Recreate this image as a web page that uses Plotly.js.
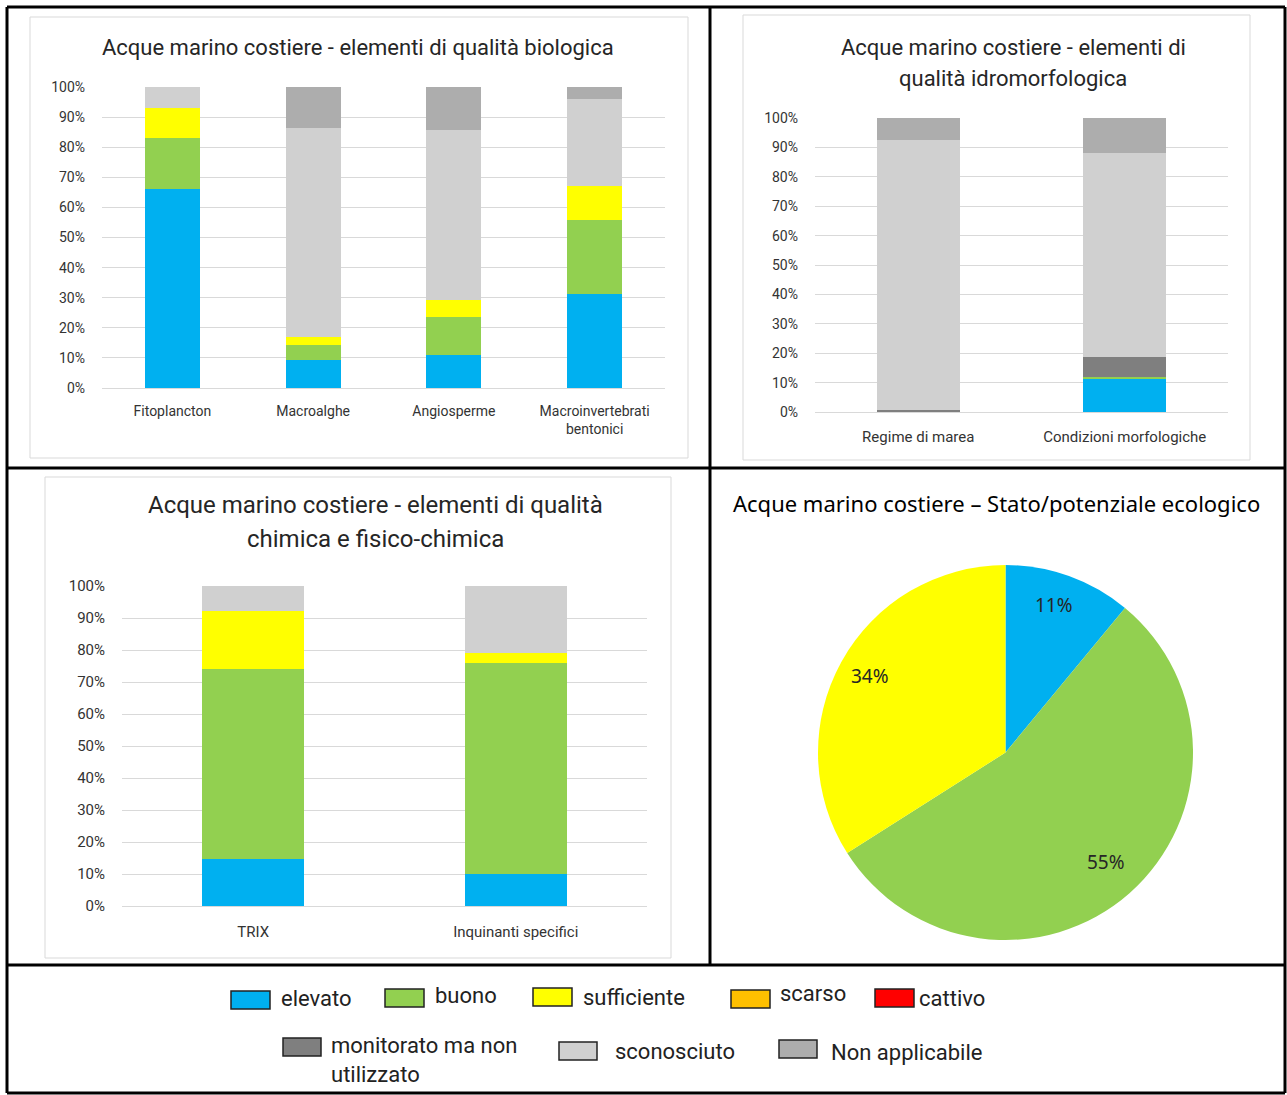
<!DOCTYPE html>
<html><head><meta charset="utf-8">
<script src="https://cdn.plot.ly/plotly-3.0.1.min.js"></script>
<style>html,body{margin:0;padding:0;background:#fff}#chart{width:1287px;height:1095px}</style>
</head><body><div id="chart"></div>
<script>
// ---- data ----
const catBio = ['Fitoplancton','Macroalghe','Angiosperme','Macroinvertebrati<br>bentonici'];
const bioElevato = [66, 9.3, 10.9, 31.2];
const bioBuono = [17, 5.1, 12.7, 24.6];
const bioSufficiente = [10, 2.5, 5.6, 11.2];
const bioSconosciuto = [7, 69.5, 56.6, 29.1];
const bioNonApplicabile = [0, 13.6, 14.2, 3.9];

const catIdro = ['Regime di marea','Condizioni morfologiche'];
const idroElevato = [0, 11.3];
const idroBuono = [0, 0.6];
const idroMonitorato = [0.8, 6.7];
const idroSconosciuto = [91.6, 69.6];
const idroNonApplicabile = [7.6, 11.8];

const catChim = ['TRIX','Inquinanti specifici'];
const chimElevato = [14.7, 10.0];
const chimBuono = [59.3, 66.0];
const chimSufficiente = [18.3, 3.2];
const chimSconosciuto = [7.7, 20.8];

const pieLabels = ['elevato','buono','sufficiente'];
const pieValues = [11, 55, 34];

const legendRow1 = ['elevato','buono','sufficiente','scarso','cattivo'];
const legendRow2 = ['monitorato ma non<br>utilizzato','sconosciuto','Non applicabile'];

const titleBio = ['Acque marino costiere - elementi di qualità biologica'];
const titleIdro = ['Acque marino costiere - elementi di', 'qualità idromorfologica'];
const titleChim = ['Acque marino costiere - elementi di qualità', 'chimica e fisico-chimica'];
const titlePie = 'Acque marino costiere – Stato/potenziale ecologico';

// ---- styles ----
const C = {elevato:'#00B0F0', buono:'#92D050', sufficiente:'#FFFF00', scarso:'#FFC000', cattivo:'#FF0000',
  monitorato:'#7F7F7F', sconosciuto:'#D0D0D0', na:'#ADADAD'};
const W = 1287, H = 1095;
const px = x => x / W, py = y => 1 - y / H;
const NARROW = '"Liberation Sans Narrow", "Arial Narrow", Roboto, sans-serif';

const traces = [];
function bar(x, y, color, xa, ya, w) {
  traces.push({type:'bar', x, y, marker:{color, line:{width:0}}, xaxis:xa, yaxis:ya, width:w,
    showlegend:false, hoverinfo:'skip'});
}
[[bioElevato,C.elevato],[bioBuono,C.buono],[bioSufficiente,C.sufficiente],[bioSconosciuto,C.sconosciuto],[bioNonApplicabile,C.na]]
  .forEach(([v,c]) => bar(catBio, v, c, 'x', 'y', 0.39));
[[idroElevato,C.elevato],[idroBuono,C.buono],[idroMonitorato,C.monitorato],[idroSconosciuto,C.sconosciuto],[idroNonApplicabile,C.na]]
  .forEach(([v,c]) => bar(catIdro, v, c, 'x2', 'y2', 0.40));
[[chimElevato,C.elevato],[chimBuono,C.buono],[chimSufficiente,C.sufficiente],[chimSconosciuto,C.sconosciuto]]
  .forEach(([v,c]) => bar(catChim, v, c, 'x3', 'y3', 0.39));

traces.push({type:'pie', labels:pieLabels, values:pieValues, sort:false, direction:'clockwise', rotation:0,
  marker:{colors:[C.elevato, C.buono, C.sufficiente], line:{width:0}},
  textinfo:'none', textposition:'none',
  domain:{x:[px(818), px(1193)], y:[py(940), py(565)]}, showlegend:false, hoverinfo:'skip'});

function yax(top, bottom, size, standoff) {
  return {domain:[py(bottom), py(top)], range:[0,100], dtick:10, ticksuffix:'%',
    showgrid:true, gridcolor:'#D9D9D9', gridwidth:1, zeroline:true, zerolinecolor:'#D9D9D9', zerolinewidth:1,
    showline:false, ticks:'', ticklabelstandoff:standoff, fixedrange:true,
    tickfont:{family:NARROW, size, color:'#333'}};
}
function xax(left, right, size, standoff) {
  return {domain:[px(left), px(right)], type:'category', showgrid:false, zeroline:false, showline:false,
    ticks:'', ticklabelstandoff:standoff, fixedrange:true, tickfont:{family:NARROW, size, color:'#333'}};
}

const shapes = [];
function rect(x0,y0,x1,y1,line,fill) {
  shapes.push({type:'rect', xref:'paper', yref:'paper', x0:px(x0), x1:px(x1), y0:py(y1), y1:py(y0),
    line, fillcolor:fill||'rgba(0,0,0,0)', layer:'below'});
}
function lineSh(x0,y0,x1,y1,w,c) {
  shapes.push({type:'line', xref:'paper', yref:'paper', x0:px(x0), x1:px(x1), y0:py(y0), y1:py(y1),
    line:{width:w, color:c}, layer:'above'});
}
rect(30,17,688,458,{width:1,color:'#D9D9D9'});
rect(743,15,1250,460,{width:1,color:'#D9D9D9'});
rect(45,477,671,958,{width:1,color:'#D9D9D9'});
lineSh(7,7,1285,7,3,'#000');
lineSh(7,7,7,1093,3,'#000');
lineSh(1285,7,1285,1093,3,'#000');
lineSh(7,1093,1285,1093,3,'#000');
lineSh(710,7,710,965,3,'#000');
lineSh(7,468,1285,468,3,'#000');
lineSh(7,965,1285,965,3,'#000');

const annotations = [];
function ann(text, x, y, size, family, xanchor, yanchor, color) {
  annotations.push({text, x:px(x), y:py(y), xref:'paper', yref:'paper', showarrow:false,
    xanchor:xanchor||'center', yanchor:yanchor||'middle', align:xanchor==='left'?'left':'center',
    font:{family, size, color:color||'#262626'}});
}
ann(titleBio[0], 358, 47, 22, NARROW);
ann(titleIdro[0], 1013, 47, 22, NARROW);
ann(titleIdro[1], 1013, 78, 22, NARROW);
ann(titleChim[0], 375, 505, 24, NARROW);
ann(titleChim[1], 375, 539, 24, NARROW);
ann(titlePie, 996, 503, 22, '"Noto Sans", sans-serif', 'center', 'middle', '#000');

// pie percentage labels
const total = pieValues.reduce((a,b)=>a+b,0);
const pieLabelX = [1054, 1106, 870];
const pieLabelY = [605, 862, 676];
pieValues.forEach((v,i) => ann(Math.round(v/total*100)+'%', pieLabelX[i], pieLabelY[i], 19, '"Noto Sans", sans-serif', 'center', 'middle', '#262626'));

// legend
const legColors1 = [C.elevato, C.buono, C.sufficiente, C.scarso, C.cattivo];
const legBoxX1 = [231, 385, 533, 731, 875];
const legBoxY1 = [1000, 998, 997, 999, 998];
const legTextX1 = [279, 433, 581, 778, 917];
const legTextY1 = [998, 995, 997, 993, 998];
legendRow1.forEach((lab, i) => {
  rect(legBoxX1[i], legBoxY1[i]-9, legBoxX1[i]+39, legBoxY1[i]+9, {width:1.5,color:'#222'}, legColors1[i]);
  ann(lab, legTextX1[i], legTextY1[i], 22, NARROW, 'left', 'middle', '#222');
});
const legColors2 = [C.monitorato, C.sconosciuto, C.na];
const legBoxX2 = [283, 559, 779];
const legBoxY2 = [1047, 1051, 1049];
const legTextX2 = [329, 613, 829];
const legTextY2 = [1060, 1051, 1052];
legendRow2.forEach((lab, i) => {
  rect(legBoxX2[i], legBoxY2[i]-9, legBoxX2[i]+38, legBoxY2[i]+9, {width:1.5,color:'#222'}, legColors2[i]);
  ann(lab, legTextX2[i], legTextY2[i], 22, NARROW, 'left', 'middle', '#222');
});

const layout = {
  width:W, height:H, margin:{l:0,r:0,t:0,b:0}, paper_bgcolor:'#fff', plot_bgcolor:'rgba(0,0,0,0)',
  barmode:'stack', showlegend:false,
  xaxis: Object.assign(xax(102,665,14,13), {anchor:'y'}),
  yaxis: Object.assign(yax(87,388,14,16), {anchor:'x'}),
  xaxis2: Object.assign(xax(815,1228,15,14), {anchor:'y2'}),
  yaxis2: Object.assign(yax(118,412,14,16), {anchor:'x2'}),
  xaxis3: Object.assign(xax(122,647,15,15), {anchor:'y3'}),
  yaxis3: Object.assign(yax(586,906,15,16), {anchor:'x3'}),
  shapes, annotations
};
Plotly.newPlot('chart', traces, layout, {displayModeBar:false, staticPlot:true});
</script></body></html>
